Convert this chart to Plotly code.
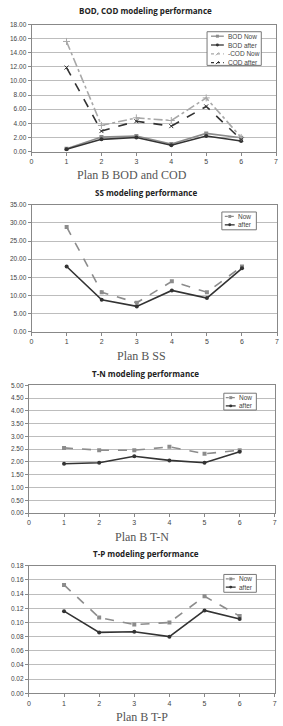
import plotly.graph_objects as go

x = [1, 2, 3, 4, 5, 6]

bod_now = [0.40, 2.05, 2.20, 1.07, 2.57, 1.96]
bod_after = [0.33, 1.73, 2.00, 0.89, 2.20, 1.50]
cod_now = [15.6, 3.7, 4.77, 4.4, 7.6, 2.0]
cod_after = [11.9, 2.9, 4.3, 3.6, 6.4, 1.7]

ss_now = [28.9, 10.9, 8.0, 13.9, 10.9, 18.0]
ss_after = [18.0, 8.8, 7.0, 11.4, 9.3, 17.5]

tn_now = [2.55, 2.46, 2.46, 2.59, 2.32, 2.46]
tn_after = [1.93, 1.97, 2.22, 2.06, 1.97, 2.40]

tp_now = [0.153, 0.107, 0.097, 0.100, 0.137, 0.109]
tp_after = [0.116, 0.086, 0.087, 0.080, 0.117, 0.105]

titles = ["BOD, COD modeling performance", "SS modeling performance",
          "T-N modeling performance", "T-P modeling performance"]
captions = ["Plan B BOD and COD", "Plan B SS", "Plan B T-N", "Plan B T-P"]

W, H = 283, 726
def py(p):
    return 1 - p / H

panels = [
    dict(top=20.7, bot=149, x0=30, x1=278, ymax=18, dtick=2, title_y=7, cap_y=173, cap_x=132),
    dict(top=202.7, bot=331, x0=30, x1=279, ymax=35, dtick=5, title_y=190, cap_y=355, cap_x=142),
    dict(top=385, bot=514, x0=27.3, x1=276.7, ymax=5, dtick=0.5, title_y=373, cap_y=538, cap_x=142),
    dict(top=567.3, bot=696, x0=27.3, x1=276.7, ymax=0.18, dtick=0.02, title_y=555, cap_y=720, cap_x=142),
]

GRAY = "#8c8c8c"
DARK = "#333333"
LIGHT = "#a8a8a8"

fig = go.Figure()
legend_items = {0: [], 1: [], 2: [], 3: []}

def add(yvals, name, idx, color, dash, symbol, size=4, width=1.6):
    sfx = "" if idx == 0 else str(idx + 1)
    fig.add_trace(go.Scatter(
        x=x, y=yvals, name=name, mode="lines+markers",
        line=dict(color=color, dash=dash, width=width),
        marker=dict(symbol=symbol, size=size, color=color),
        xaxis="x" + sfx, yaxis="y" + sfx, showlegend=False,
    ))
    legend_items[idx].append((name, color, dash, symbol))

add(bod_now, "BOD Now", 0, GRAY, "solid", "square")
add(bod_after, "BOD after", 0, DARK, "solid", "circle")
add(cod_now, "-COD Now", 0, LIGHT, "dashdot", "cross-thin-open", 5)
add(cod_after, "COD after", 0, DARK, "dash", "x-thin-open", 4)

add(ss_now, "Now", 1, GRAY, "dash", "square")
add(ss_after, "after", 1, DARK, "solid", "circle")
add(tn_now, "Now", 2, GRAY, "dash", "square")
add(tn_after, "after", 2, DARK, "solid", "circle")
add(tp_now, "Now", 3, GRAY, "dash", "square")
add(tp_after, "after", 3, DARK, "solid", "circle")

# legend boxes (pixel geometry): box x0, x1, y0, y1, first entry y, spacing, sample x0, x1, text x
legend_geo = [
    (208, 263, 28, 62, 32.5, 8.9, 212, 225, 227),
    (223, 258, 210, 228, 214.5, 8.5, 226, 236, 237.5),
    (225, 258, 393, 410, 397.5, 8.3, 227, 237, 238.5),
    (225, 258, 576, 594, 580.5, 8.3, 227, 237, 238.5),
]

shapes = []
annotations = []
layout = dict(
    width=W, height=H, margin=dict(l=0, r=0, t=0, b=0),
    paper_bgcolor="white", plot_bgcolor="white", showlegend=False,
    font=dict(family="Liberation Sans, Arial, sans-serif", color="#444444", size=7),
)
for i, p in enumerate(panels):
    sfx = "" if i == 0 else str(i + 1)
    layout["xaxis" + sfx] = dict(
        domain=[p["x0"] / W, p["x1"] / W], range=[0, 7], dtick=1, tick0=0,
        showgrid=False, zeroline=False, showline=True, linecolor="#888888", linewidth=1,
        mirror=True, ticks="outside", ticklen=3, tickcolor="#888888",
        tickfont=dict(size=7), anchor="y" + sfx, fixedrange=True,
    )
    layout["yaxis" + sfx] = dict(
        domain=[py(p["bot"]), py(p["top"])], range=[0, p["ymax"]], dtick=p["dtick"], tick0=0,
        tickformat=".2f", showgrid=True, gridcolor="#bdbdbd", gridwidth=1,
        zeroline=False, showline=True, linecolor="#888888", linewidth=1, mirror=True,
        ticks="outside", ticklen=3, tickcolor="#888888", tickfont=dict(size=6.5),
        anchor="x" + sfx, fixedrange=True,
    )
    annotations.append(dict(
        text="<b>" + titles[i] + "</b>", x=146 / W, y=py(p["title_y"]),
        xref="paper", yref="paper", showarrow=False, xanchor="center", yanchor="middle",
        font=dict(size=8, color="#222222", family="Open Sans, Liberation Sans, sans-serif"),
    ))
    annotations.append(dict(
        text=captions[i], x=p["cap_x"] / W, y=py(p["cap_y"]),
        xref="paper", yref="paper", showarrow=False, xanchor="center", yanchor="middle",
        font=dict(size=12, color="#555555", family="Liberation Serif, DejaVu Serif, serif"),
    ))
    # manual compact legend
    bx0, bx1, by0, by1, ey, es, sx0, sx1, tx = legend_geo[i]
    shapes.append(dict(type="rect", xref="paper", yref="paper",
                       x0=bx0 / W, x1=bx1 / W, y0=py(by1), y1=py(by0),
                       line=dict(color="#777777", width=1), fillcolor="white", layer="above"))
    for k, (name, color, dash, symbol) in enumerate(legend_items[i]):
        yy = ey + k * es
        shapes.append(dict(type="line", xref="paper", yref="paper",
                           x0=sx0 / W, x1=sx1 / W, y0=py(yy), y1=py(yy),
                           line=dict(color=color, width=1.3, dash="dot" if dash != "solid" else "solid"),
                           layer="above"))
        cx = (sx0 + sx1) / 2
        if symbol == "square":
            shapes.append(dict(type="rect", xref="paper", yref="paper",
                               x0=(cx - 1.5) / W, x1=(cx + 1.5) / W, y0=py(yy + 1.5), y1=py(yy - 1.5),
                               line=dict(width=0), fillcolor=color, layer="above"))
        elif symbol == "circle":
            shapes.append(dict(type="circle", xref="paper", yref="paper",
                               x0=(cx - 1.5) / W, x1=(cx + 1.5) / W, y0=py(yy + 1.5), y1=py(yy - 1.5),
                               line=dict(width=0), fillcolor=color, layer="above"))
        else:
            shapes.append(dict(type="line", xref="paper", yref="paper",
                               x0=(cx - 1.5) / W, x1=(cx + 1.5) / W, y0=py(yy + 1.5), y1=py(yy - 1.5),
                               line=dict(color=color, width=1), layer="above"))
        annotations.append(dict(
            text=name, x=tx / W, y=py(yy), xref="paper", yref="paper", showarrow=False,
            xanchor="left", yanchor="middle",
            font=dict(size=6.5, color="#444444", family="Liberation Sans, Arial, sans-serif"),
        ))

layout["annotations"] = annotations
layout["shapes"] = shapes
fig.update_layout(**layout)
fig.write_html("out.html")
